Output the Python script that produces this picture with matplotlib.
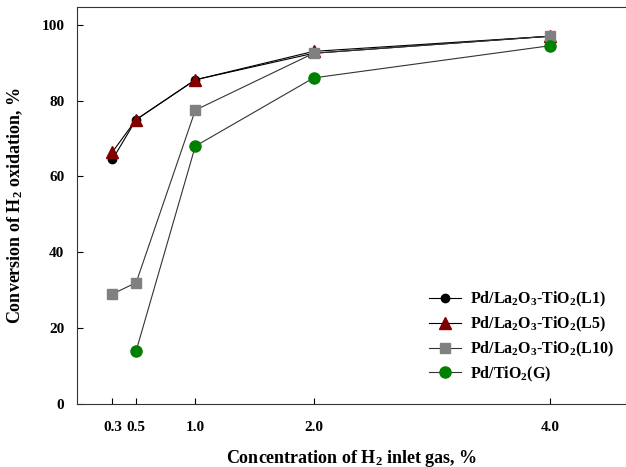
import matplotlib
matplotlib.use('Agg')
import matplotlib.pyplot as plt

plt.rcParams['font.family'] = 'Liberation Serif'
plt.rcParams['font.weight'] = 'bold'
plt.rcParams['mathtext.fontset'] = 'custom'
plt.rcParams['mathtext.bf'] = 'Liberation Serif:bold'
plt.rcParams['mathtext.rm'] = 'Liberation Serif:bold'
plt.rcParams['mathtext.default'] = 'bf'

# data
conc = [0.3, 0.5, 1.0, 2.0, 4.0]
conv_l1 = [64.5, 75.0, 85.5, 92.5, 97.0]
conv_l5 = [66.5, 75.0, 85.5, 93.0, 97.0]
conv_l10 = [29.0, 32.0, 77.5, 92.5, 97.0]
conc_g = [0.5, 1.0, 2.0, 4.0]
conv_g = [14.0, 68.0, 86.0, 94.5]
xticks = [0.3, 0.5, 1.0, 2.0, 4.0]
yticks = [0, 20, 40, 60, 80, 100]

fig = plt.figure(figsize=(6.26, 4.67), dpi=100)
ax = fig.add_axes([0.123, 0.135, 0.877, 0.85])

ax.plot(conc, conv_l1, '-o', color='black', lw=0.8, mfc='black', mec='black', ms=6,
        label='Pd/La$_2$O$_3$-TiO$_2$(L1)')
ax.plot(conc, conv_l5, '-^', color='black', lw=0.8, mfc='#800000', mec='#800000', ms=8,
        label='Pd/La$_2$O$_3$-TiO$_2$(L5)')
ax.plot(conc, conv_l10, '-s', color='#333333', lw=0.8, mfc='#808080', mec='#808080', ms=7,
        label='Pd/La$_2$O$_3$-TiO$_2$(L10)')
ax.plot(conc_g, conv_g, '-o', color='#333333', lw=0.8, mfc='#008000', mec='#008000', ms=8,
        label='Pd/TiO$_2$(G)')

ax.set_xlim(0, 4.64)
ax.set_ylim(0, 104.7)
ax.set_xticks(xticks)
ax.set_xticklabels(['0.3', '0.5', '1.0', '2.0', '4.0'])
ax.set_yticks(yticks)
ax.tick_params(direction='in', length=4, labelsize=11)
ax.tick_params(axis='x', pad=12)
ax.tick_params(axis='y', pad=9)
ax.spines['right'].set_visible(False)
for s in ['left', 'bottom', 'top']:
    ax.spines[s].set_color('#333333')

ax.set_xlabel('Concentration of H$_2$ inlet gas, %', fontsize=13, fontweight='bold', labelpad=10)
ax.set_ylabel('Conversion of H$_2$ oxidation, %', fontsize=13, fontweight='bold', labelpad=12)

leg = ax.legend(loc='lower right', bbox_to_anchor=(1.005, 0.015), frameon=False, fontsize=11.5,
                handlelength=2.0, labelspacing=0.35, handletextpad=0.6)

fig.savefig('out.png', dpi=100)
